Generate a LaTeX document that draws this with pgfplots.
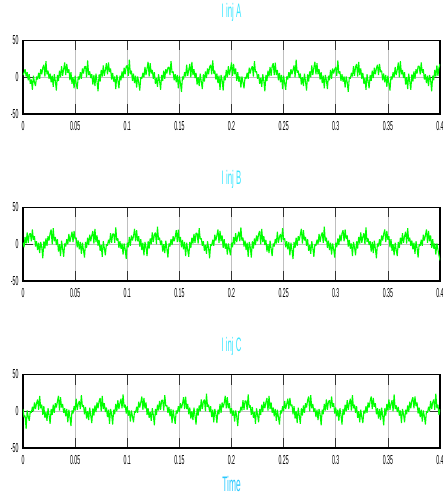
\documentclass[border=0pt]{standalone}
\usepackage{fontspec}
\usepackage{pgfplots}
\usepackage{pgfplotstable}
\pgfplotsset{compat=1.18}
\newfontfamily\cond[FakeStretch=0.4]{Liberation Sans}
\definecolor{sigGreen}{RGB}{0,255,0}
\definecolor{titleCyan}{RGB}{60,230,255}
\definecolor{timeBlue}{RGB}{40,200,255}

\pgfplotstableread[header=false,row sep=\\]{
3\\6\\11\\1\\7\\-4\\4\\-9\\-3\\-17\\2\\-7\\-12\\1\\-3\\6\\-2\\11\\4\\13\\
17\\1\\22\\4\\9\\-2\\5\\-7\\2\\-13\\4\\-5\\-18\\3\\-5\\9\\0\\15\\2\\11\\
20\\3\\18\\6\\11\\-4\\7\\-9\\0\\-15\\2\\-8\\-16\\1\\-3\\7\\-2\\12\\5\\14\\
15\\0\\23\\3\\8\\-1\\4\\-10\\3\\-12\\5\\-6\\-19\\4\\-6\\10\\1\\16\\2\\10\\
19\\4\\20\\7\\12\\-3\\6\\-6\\1\\-16\\3\\-4\\-15\\2\\-4\\8\\-1\\13\\4\\15\\
16\\2\\24\\4\\9\\-5\\5\\-8\\2\\-14\\1\\-7\\-18\\0\\-2\\6\\0\\14\\3\\12\\
21\\1\\19\\5\\10\\-2\\7\\-9\\-1\\-13\\4\\-5\\-17\\3\\-5\\9\\-2\\11\\5\\13\\
14\\3\\22\\6\\8\\-4\\4\\-7\\3\\-15\\2\\-8\\-20\\1\\-3\\7\\1\\17\\2\\10\\
18\\0\\21\\3\\11\\-1\\6\\-10\\0\\-12\\5\\-6\\-16\\4\\-6\\8\\-1\\12\\4\\14\\
17\\4\\23\\5\\9\\-3\\5\\-8\\2\\-17\\3\\-4\\-18\\2\\-4\\10\\0\\15\\3\\11\\
20\\2\\18\\4\\12\\-5\\7\\-6\\1\\-14\\1\\-7\\-15\\0\\-2\\6\\-2\\13\\5\\12\\
15\\1\\22\\7\\8\\-2\\4\\-9\\-1\\-13\\4\\-5\\-19\\3\\-5\\9\\1\\14\\2\\15\\
19\\3\\20\\3\\10\\-4\\6\\-7\\3\\-16\\2\\-8\\-17\\1\\-3\\7\\-1\\11\\4\\10\\
16\\0\\24\\6\\9\\-1\\5\\-10\\0\\-12\\5\\-6\\-18\\4\\-6\\8\\0\\16\\3\\13\\
21\\4\\19\\4\\11\\-3\\7\\-8\\2\\-15\\3\\-4\\-16\\2\\-4\\10\\-2\\12\\5\\11\\
14\\2\\23\\5\\8\\-5\\4\\-6\\1\\-14\\1\\-7\\-20\\0\\-2\\6\\1\\15\\2\\14\\
18\\1\\21\\3\\12\\-2\\6\\-9\\-1\\-17\\4\\-5\\-15\\3\\-5\\9\\-1\\13\\4\\12\\
17\\3\\18\\7\\9\\-4\\5\\-7\\3\\-13\\2\\-8\\-18\\1\\-3\\7\\0\\14\\3\\10\\
20\\0\\22\\4\\10\\-1\\7\\-10\\0\\-16\\5\\-6\\-17\\4\\-6\\8\\-2\\11\\5\\15\\
15\\4\\20\\6\\11\\-3\\4\\-8\\2\\-12\\3\\-4\\-19\\2\\-4\\10\\1\\16\\2\\13\\
18\\
}\tA

\pgfplotstableread[header=false,row sep=\\]{
2\\-4\\10\\1\\16\\2\\13\\15\\4\\20\\6\\11\\-3\\4\\-8\\2\\-12\\3\\-4\\-19\\
4\\-6\\8\\-2\\11\\5\\15\\20\\0\\22\\4\\10\\-1\\7\\-10\\0\\-16\\5\\-6\\-17\\
1\\-3\\7\\0\\14\\3\\10\\17\\3\\18\\7\\9\\-4\\5\\-7\\3\\-13\\2\\-8\\-18\\
3\\-5\\9\\-1\\13\\4\\12\\18\\1\\21\\3\\12\\-2\\6\\-9\\-1\\-17\\4\\-5\\-15\\
0\\-2\\6\\1\\15\\2\\14\\14\\2\\23\\5\\8\\-5\\4\\-6\\1\\-14\\1\\-7\\-20\\
2\\-4\\10\\-2\\12\\5\\11\\21\\4\\19\\4\\11\\-3\\7\\-8\\2\\-15\\3\\-4\\-16\\
4\\-6\\8\\0\\16\\3\\13\\16\\0\\24\\6\\9\\-1\\5\\-10\\0\\-12\\5\\-6\\-18\\
1\\-3\\7\\-1\\11\\4\\10\\19\\3\\20\\3\\10\\-4\\6\\-7\\3\\-16\\2\\-8\\-17\\
3\\-5\\9\\1\\14\\2\\15\\15\\1\\22\\7\\8\\-2\\4\\-9\\-1\\-13\\4\\-5\\-19\\
0\\-2\\6\\-2\\13\\5\\12\\20\\2\\18\\4\\12\\-5\\7\\-6\\1\\-14\\1\\-7\\-15\\
2\\-4\\10\\0\\15\\3\\11\\17\\4\\23\\5\\9\\-3\\5\\-8\\2\\-17\\3\\-4\\-18\\
4\\-6\\8\\-1\\12\\4\\14\\18\\0\\21\\3\\11\\-1\\6\\-10\\0\\-12\\5\\-6\\-16\\
1\\-3\\7\\1\\17\\2\\10\\14\\3\\22\\6\\8\\-4\\4\\-7\\3\\-15\\2\\-8\\-20\\
3\\-5\\9\\-2\\11\\5\\13\\21\\1\\19\\5\\10\\-2\\7\\-9\\-1\\-13\\4\\-5\\-17\\
0\\-2\\6\\0\\14\\3\\12\\16\\2\\24\\4\\9\\-5\\5\\-8\\2\\-14\\1\\-7\\-18\\
2\\-4\\8\\-1\\13\\4\\15\\19\\4\\20\\7\\12\\-3\\6\\-6\\1\\-16\\3\\-4\\-15\\
4\\-6\\10\\1\\16\\2\\10\\15\\0\\23\\3\\8\\-1\\4\\-10\\3\\-12\\5\\-6\\-19\\
1\\-3\\7\\-2\\12\\5\\14\\20\\3\\18\\6\\11\\-4\\7\\-9\\0\\-15\\2\\-8\\-16\\
3\\-5\\9\\0\\15\\2\\11\\17\\1\\22\\4\\9\\-2\\5\\-7\\2\\-13\\4\\-5\\-18\\
0\\-2\\6\\-2\\13\\5\\12\\20\\2\\18\\4\\12\\-5\\7\\-6\\1\\-14\\1\\-7\\-15\\
-22\\
}\tB

\pgfplotstableread[header=false,row sep=\\]{
3\\-8\\-6\\-24\\1\\-7\\-13\\0\\-2\\6\\0\\12\\3\\11\\16\\2\\21\\4\\9\\-5\\
7\\-9\\-1\\-13\\4\\-5\\-17\\3\\-5\\9\\-2\\11\\5\\13\\21\\1\\19\\5\\10\\-2\\
4\\-7\\3\\-15\\2\\-8\\-20\\1\\-3\\7\\1\\17\\2\\10\\14\\3\\22\\6\\8\\-4\\
6\\-10\\0\\-12\\5\\-6\\-16\\4\\-6\\8\\-1\\12\\4\\14\\18\\0\\21\\3\\11\\-1\\
5\\-8\\2\\-17\\3\\-4\\-18\\2\\-4\\10\\0\\15\\3\\11\\17\\4\\23\\5\\9\\-3\\
7\\-6\\1\\-14\\1\\-7\\-15\\0\\-2\\6\\-2\\13\\5\\12\\20\\2\\18\\4\\12\\-5\\
4\\-9\\-1\\-13\\4\\-5\\-19\\3\\-5\\9\\1\\14\\2\\15\\15\\1\\22\\7\\8\\-2\\
6\\-7\\3\\-16\\2\\-8\\-17\\1\\-3\\7\\-1\\11\\4\\10\\19\\3\\20\\3\\10\\-4\\
5\\-10\\0\\-12\\5\\-6\\-18\\4\\-6\\8\\0\\16\\3\\13\\16\\0\\24\\6\\9\\-1\\
7\\-8\\2\\-15\\3\\-4\\-16\\2\\-4\\10\\-2\\12\\5\\11\\21\\4\\19\\4\\11\\-3\\
4\\-6\\1\\-14\\1\\-7\\-20\\0\\-2\\6\\1\\15\\2\\14\\14\\2\\23\\5\\8\\-5\\
6\\-9\\-1\\-17\\4\\-5\\-15\\3\\-5\\9\\-1\\13\\4\\12\\18\\1\\21\\3\\12\\-2\\
5\\-7\\3\\-13\\2\\-8\\-18\\1\\-3\\7\\0\\14\\3\\10\\17\\3\\18\\7\\9\\-4\\
7\\-10\\0\\-16\\5\\-6\\-17\\4\\-6\\8\\-2\\11\\5\\15\\20\\0\\22\\4\\10\\-1\\
4\\-8\\2\\-12\\3\\-4\\-19\\2\\-4\\10\\1\\16\\2\\13\\15\\4\\20\\6\\11\\-3\\
5\\-7\\2\\-13\\4\\-5\\-18\\3\\-5\\9\\0\\15\\2\\11\\17\\1\\22\\4\\9\\-2\\
7\\-9\\0\\-15\\2\\-8\\-16\\1\\-3\\7\\-2\\12\\5\\14\\20\\3\\18\\6\\11\\-4\\
4\\-10\\3\\-12\\5\\-6\\-19\\4\\-6\\10\\1\\16\\2\\10\\15\\0\\23\\3\\8\\-1\\
6\\-6\\1\\-16\\3\\-4\\-15\\2\\-4\\8\\-1\\13\\4\\15\\19\\4\\20\\7\\12\\-3\\
5\\-8\\2\\-14\\1\\-7\\-18\\0\\-2\\6\\0\\14\\3\\12\\16\\2\\24\\4\\9\\-5\\
3\\
}\tC

\pgfplotsset{
  panel/.style={
    scale only axis,
    width=417pt, height=73.5pt,
    anchor=south west,
    xmin=0, xmax=0.4, ymin=-50, ymax=50,
    xtick={0,0.05,0.1,0.15,0.2,0.25,0.3,0.35,0.4},
    xticklabels={0,0.05,0.1,0.15,0.2,0.25,0.3,0.35,0.4},
    ytick={-50,0,50},
    yticklabels={-50,0,50},
    grid=major,
    major grid style={color=black!25, line width=0.6pt},
    tick align=inside,
    major tick length=10pt,
    tick style={color=black!80, line width=0.7pt},
    axis line style={line width=1.5pt},
    tick label style={font=\cond\fontsize{13}{13}\selectfont, text=black},
    xticklabel style={yshift=-4pt},
    yticklabel style={xshift=-1pt},
    title style={at={(0.5,1)}, anchor=center, yshift=22.5pt,
      font=\cond\fontsize{19.5}{20}\selectfont, text=titleCyan},
  },
  sig/.style={color=sigGreen, line width=1.1pt, mark=none, line join=bevel},
}

\begin{document}
\begin{tikzpicture}
\useasboundingbox (-23pt,-48pt) rectangle (420pt,448pt);
\begin{axis}[panel, at={(0pt,334pt)}, title={I inj A}]
\addplot[sig] table[x expr=\coordindex*0.001, y index=0] {\tA};
\end{axis}
\begin{axis}[panel, at={(0pt,167pt)}, title={I inj B}]
\addplot[sig] table[x expr=\coordindex*0.001, y index=0] {\tB};
\end{axis}
\begin{axis}[panel, at={(0pt,0pt)}, title={I inj C},
  xlabel={Time},
  xlabel style={at={(0.5,0)}, anchor=center, yshift=-36pt,
    font=\cond\fontsize{21}{21}\selectfont, text=timeBlue}]
\addplot[sig] table[x expr=\coordindex*0.001, y index=0] {\tC};
\end{axis}
\end{tikzpicture}
\end{document}
